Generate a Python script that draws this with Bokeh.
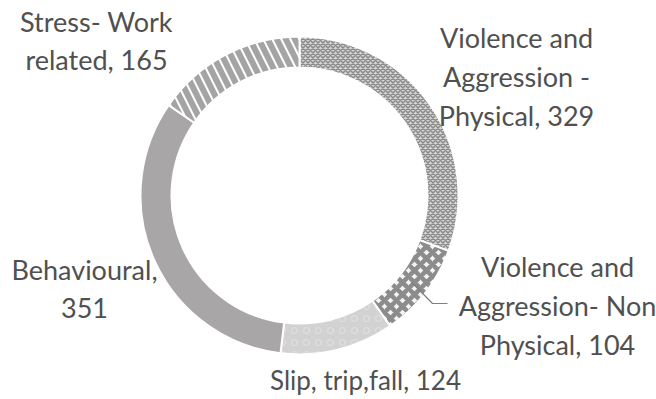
from bokeh.plotting import figure
from bokeh.models import ColumnDataSource, Range1d
from bokeh.core.properties import value
from bokeh.embed import file_html
from bokeh.resources import INLINE
import numpy as np

# ---- data ----
categories = ["Violence and Aggression - Physical",
              "Violence and Aggression- Non Physical",
              "Slip, trip,fall",
              "Behavioural",
              "Stress- Work related"]
counts = [329, 104, 124, 351, 165]
label_texts = ["Violence and\nAggression -\nPhysical, 329",
               "Violence and\nAggression- Non\nPhysical, 104",
               "Slip, trip,fall, 124",
               "Behavioural,\n351",
               "Stress- Work\nrelated, 165"]

# ---- styles / layout ----
W, H = 656, 399
CX, CY = 299, H - 195
R_OUT, R_IN = 159, 128
fills = ["#d4d4d4", "#f4f4f4", "#d2d2d2", "#a8a6a6", "#ffffff"]
hatches = ["x", "x", "o", " ", "\\"]
hatch_colors = ["#8a8a8a", "#8c8c8c", "#e2e2e2", "#a8a6a6", "#a4a4a4"]
hatch_scales = [5, 12, 12, 12, 18]
hatch_weights = [1.5, 4.5, 1, 1, 6]
label_pos = [(516, H - 76), (557, H - 305), (365, H - 379), (84, H - 288), (96, H - 40)]
font_sizes = ["27px", "27px", "26px", "27px", "27px"]

vals = np.array(counts, dtype=float)
frac = vals / vals.sum()
ends = np.pi / 2 - np.cumsum(frac) * 2 * np.pi
starts = ends + frac * 2 * np.pi

p = figure(width=W, height=H, output_backend="svg", toolbar_location=None,
           x_range=Range1d(0, W), y_range=Range1d(0, H), min_border=0)
p.axis.visible = False
p.grid.visible = False
p.outline_line_color = None
p.background_fill_color = "white"
p.border_fill_color = "white"

src = ColumnDataSource(dict(start=ends, end=starts, fill=fills, hatch=hatches,
                            hcol=hatch_colors, hs=hatch_scales, hw=hatch_weights,
                            x=[CX] * len(counts), y=[CY] * len(counts)))
p.annular_wedge(x="x", y="y", inner_radius=R_IN, outer_radius=R_OUT,
                inner_radius_units="screen", outer_radius_units="screen",
                start_angle="start", end_angle="end", direction="anticlock",
                fill_color="fill", hatch_pattern="hatch", hatch_color="hcol",
                hatch_scale="hs", hatch_weight="hw",
                line_color="white", line_width=2, source=src)

# leader line for the Non Physical slice
mid = (starts[1] + ends[1]) / 2
rm = (R_IN + R_OUT) / 2
sx, sy = CX + rm * np.cos(mid), CY + rm * np.sin(mid)
p.line([sx, 432, 447], [sy, H - 303, H - 303], line_color="#7f7f7f", line_width=1.2)

lsrc = ColumnDataSource(dict(x=[q[0] for q in label_pos], y=[q[1] for q in label_pos],
                             t=label_texts, fs=font_sizes))
p.text(x="x", y="y", text="t", source=lsrc,
       text_font=value("Lato"), text_font_size="fs", text_color="#505050",
       text_align="center", text_baseline="middle", text_line_height=1.17)

open("out.html", "w").write(file_html(p, INLINE))
